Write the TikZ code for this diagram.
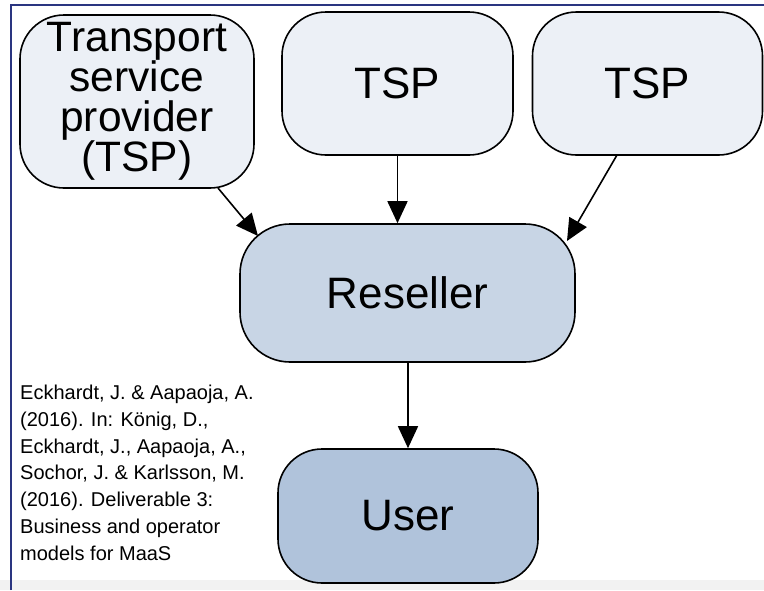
\documentclass[tikz,border=0pt]{standalone}
\usepackage{fontspec}
\setmainfont{Liberation Sans}
\usetikzlibrary{arrows.meta}
\definecolor{framec}{HTML}{2A3580}
\definecolor{tspfill}{HTML}{ECF0F6}
\definecolor{resfill}{HTML}{C8D5E5}
\definecolor{userfill}{HTML}{B0C3DB}
\tikzset{
  box/.style={draw=black, line width=1.6pt, rounded corners=44pt, inner sep=0pt, align=center, font=\fontsize{44}{40}\selectfont},
  conn/.style={line width=1.6pt, -{Triangle[length=22pt,width=20pt]}},
}
\begin{document}
\begin{tikzpicture}[x=1pt,y=-1pt]
\useasboundingbox (0,0) rectangle (764,590);
\fill[white] (0,0) rectangle (764,590);
\fill[gray!10] (0,580) rectangle (764,590);
\draw[framec, line width=1.2pt] (11,590) -- (11,5) -- (764,5);
\node[box, fill=tspfill, minimum width=234pt, minimum height=173pt, font=\fontsize{42.5}{40}\selectfont] (t1) at (137,101.5) {Transport\\service\\provider\\(TSP)};
\node[box, fill=tspfill, minimum width=231pt, minimum height=143pt] (t2) at (397.5,83.5) {TSP};
\node[box, fill=tspfill, minimum width=230pt, minimum height=143pt] (t3) at (647.5,83.5) {TSP};
\node[box, fill=resfill, rounded corners=50pt, minimum width=335pt, minimum height=138pt] (r) at (407.5,293) {Reseller};
\node[box, fill=userfill, minimum width=260pt, minimum height=134pt] (u) at (408,516) {User};
\node[anchor=base west, align=left, inner sep=0pt, font=\fontsize{20}{26.7}\selectfont] (cite) at (20,560) {Eckhardt, J. \& Aapaoja, A.\\(2016). In: König, D.,\\Eckhardt, J., Aapaoja, A.,\\Sochor, J. \& Karlsson, M.\\(2016). Deliverable 3:\\Business and operator\\models for MaaS};
\coordinate (a1s) at (218,188);
\coordinate (a1e) at (258,236);
\coordinate (a3s) at (617,155);
\coordinate (a3e) at (567,241);
\draw[conn] (a1s) -- (a1e);
\draw[conn] (t2.south) -- (t2.south |- r.north);
\draw[conn] (a3s) -- (a3e);
\draw[conn] (r.south -| u.north) -- (u.north);
\end{tikzpicture}
\end{document}
